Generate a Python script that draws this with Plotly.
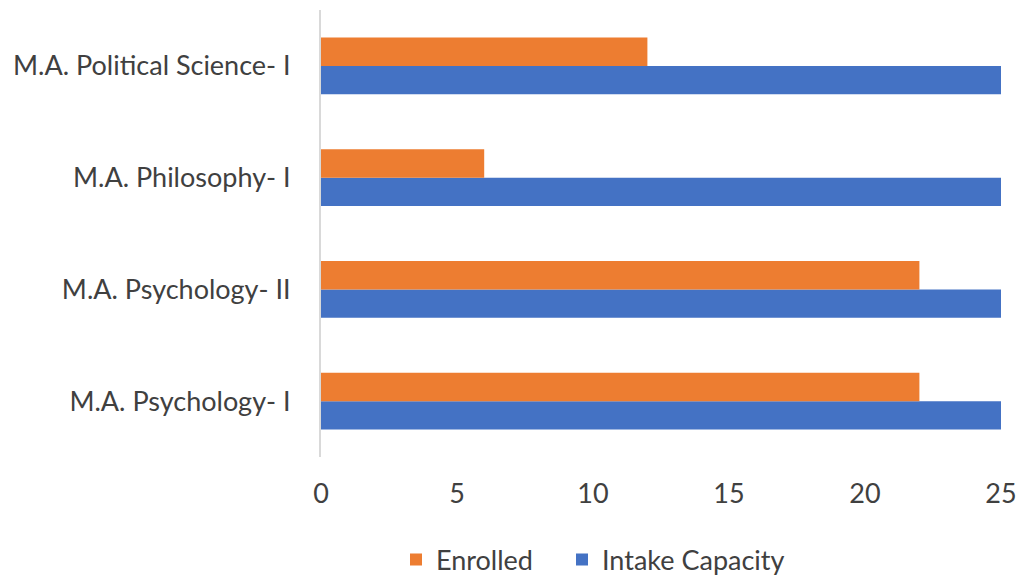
import plotly.graph_objects as go

categories = ["M.A. Psychology- I", "M.A. Psychology- II", "M.A. Philosophy- I", "M.A. Political Science- I"]
enrolled = [22, 22, 6, 12]
intake_capacity = [25, 25, 25, 25]
x_ticks = [0, 5, 10, 15, 20, 25]

FONT = "Lato"
FS = 27
W, H = 1021, 576

fig = go.Figure()
fig.add_trace(go.Bar(y=categories, x=intake_capacity, orientation="h", name="Intake Capacity",
                     marker=dict(color="#4472C4", line=dict(width=0)), legend="legend2"))
fig.add_trace(go.Bar(y=categories, x=enrolled, orientation="h", name="Enrolled",
                     marker=dict(color="#ED7D31", line=dict(width=0)), legend="legend"))

leg_common = dict(orientation="h", xref="container", yref="container", xanchor="left",
                  y=1 - 560 / H, yanchor="middle", itemwidth=30,
                  font=dict(family=FONT, size=FS, color="#404040"))

fig.update_layout(
    width=W, height=H,
    margin=dict(l=321, r=20, t=10, b=119, autoexpand=False),
    barmode="group", bargap=0.49, bargroupgap=0,
    plot_bgcolor="white", paper_bgcolor="white",
    font=dict(family=FONT, size=FS, color="#404040"),
    showlegend=True,
    legend=dict(x=396 / W, **leg_common),
    legend2=dict(x=562 / W, **leg_common),
    xaxis=dict(range=[0, 25], tickvals=x_ticks, showgrid=False, zeroline=False,
               showline=False, ticklabelstandoff=18, automargin=False),
    yaxis=dict(showgrid=False, zeroline=False, showline=True, linecolor="#D9D9D9", linewidth=2,
               ticklabelstandoff=23, automargin=False,
               categoryorder="array", categoryarray=categories),
)
fig.write_html("out.html", config={"displayModeBar": False},
               post_script="document.body.style.margin='0';document.body.style.overflow='hidden';")
